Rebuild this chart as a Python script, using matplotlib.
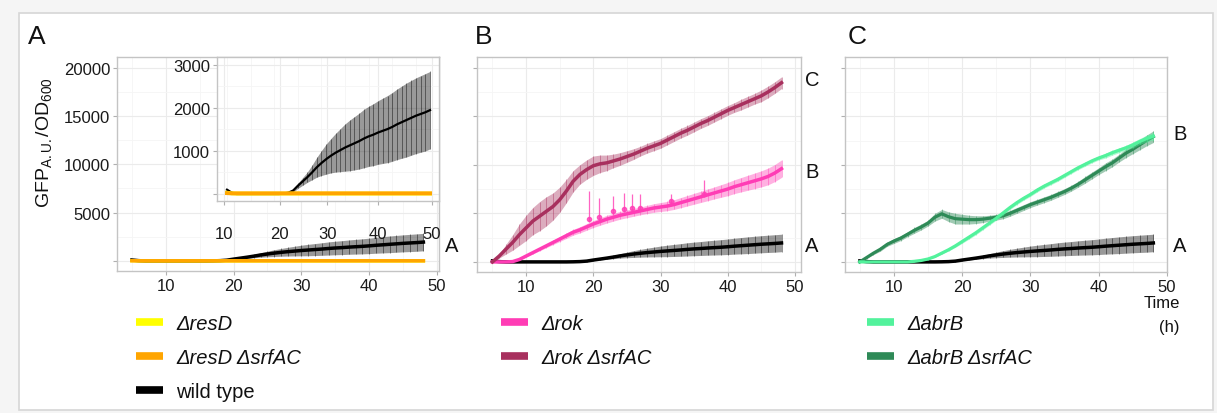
import matplotlib
matplotlib.use("Agg")
import matplotlib.pyplot as plt
from matplotlib.patches import Rectangle
from matplotlib.lines import Line2D
from matplotlib.ticker import MultipleLocator

plt.rcParams['font.family'] = ['Liberation Sans', 'DejaVu Sans']
plt.rcParams['mathtext.fontset'] = 'custom'
plt.rcParams['mathtext.rm'] = 'Liberation Sans'
plt.rcParams['mathtext.it'] = 'Liberation Sans:italic'

# ---------------- data ----------------
time_h = [5, 6, 7, 8, 9, 10, 11, 12, 13, 14, 15, 16, 17, 18, 19, 20, 21, 22, 23, 24, 25, 26,
          27, 28, 29, 30, 31, 32, 33, 34, 35, 36, 37, 38, 39, 40, 41, 42, 43, 44, 45, 46, 47, 48]

wt_mean = [100, 30, 0, 0, 0, 0, 0, 0, 0, 0, 0, 0, 10, 30, 80, 190, 290, 390, 500, 620, 720, 810,
           890, 960, 1020, 1080, 1130, 1180, 1230, 1290, 1340, 1380, 1430, 1470, 1510, 1560, 1620,
           1670, 1720, 1770, 1820, 1860, 1900, 1950]
wt_sd = [20, 10, 0, 0, 0, 0, 0, 0, 0, 0, 0, 0, 5, 20, 40, 60, 90, 120, 170, 230, 290, 350, 400,
         450, 500, 550, 590, 620, 650, 680, 700, 720, 740, 760, 780, 800, 820, 840, 860, 870, 880,
         890, 900, 900]

resD_mean = [30, 15, 10, 10, 10, 10, 10, 10, 10, 10, 10, 10, 10, 10, 10, 10, 10, 10, 10, 10, 10, 10,
             10, 10, 10, 10, 10, 10, 10, 10, 10, 10, 10, 10, 10, 10, 10, 10, 10, 10, 10, 10, 10, 10]
resD_srfAC_mean = [20, 15, 15, 15, 15, 15, 15, 15, 15, 15, 15, 15, 15, 15, 15, 15, 15, 15, 15, 15,
                   15, 15, 15, 15, 15, 15, 15, 15, 15, 15, 15, 15, 15, 15, 15, 15, 15, 15, 15, 15,
                   15, 15, 15, 15]

rok_mean = [0, 0, 0, 30, 250, 600, 950, 1300, 1650, 2000, 2350, 2700, 3050, 3300, 3600, 3900, 4150,
            4400, 4600, 4800, 4950, 5100, 5250, 5400, 5550, 5650, 5750, 5900, 6100, 6300, 6500, 6700,
            6900, 7100, 7300, 7500, 7750, 7950, 8150, 8350, 8550, 8800, 9150, 9600]
rok_sd = [0, 0, 0, 20, 60, 100, 130, 160, 190, 220, 250, 280, 300, 320, 340, 360, 380, 400, 400, 400,
          400, 400, 400, 420, 440, 460, 480, 500, 520, 540, 560, 580, 600, 620, 650, 680, 710, 740,
          770, 800, 830, 860, 880, 900]
rok_spike_t = [19.3, 20.9, 23.0, 24.6, 25.8, 27.0, 31.5, 36.4]
rok_spike_v = [4400, 4600, 5250, 5400, 5600, 5600, 6250, 6950]
rok_spike_up = [2900, 2000, 1550, 1700, 1350, 1400, 700, 1500]

rok_srfAC_mean = [0, 600, 1300, 2000, 2800, 3500, 4200, 4700, 5200, 5700, 6400, 7300, 8300, 9000,
                  9500, 9900, 10100, 10200, 10400, 10600, 10850, 11100, 11400, 11700, 11950, 12200,
                  12550, 12900, 13250, 13550, 13900, 14250, 14550, 14900, 15250, 15600, 15900, 16200,
                  16500, 16800, 17100, 17500, 17950, 18450]
rok_srfAC_sd = [0, 200, 500, 800, 1100, 1300, 1400, 1500, 1500, 1400, 1300, 1200, 1100, 1000, 1000,
                1000, 900, 800, 700, 650, 600, 550, 500, 500, 500, 500, 500, 500, 500, 500, 500, 500,
                500, 500, 500, 500, 500, 550, 550, 550, 600, 600, 600, 600]

abrB_mean = [0, 0, 0, 0, 0, 0, 0, 0, 60, 150, 300, 550, 900, 1250, 1650, 2100, 2550, 3000, 3500,
             4000, 4500, 5050, 5600, 6100, 6550, 6950, 7400, 7800, 8150, 8500, 8900, 9300, 9700,
             10050, 10400, 10700, 10950, 11250, 11500, 11750, 12050, 12400, 12700, 12950]
abrB_sd = [0, 0, 0, 0, 0, 0, 0, 0, 20, 40, 60, 80, 100, 120, 150, 180, 200, 200, 200, 200, 200, 200,
           200, 200, 200, 200, 200, 200, 200, 200, 200, 200, 200, 200, 200, 200, 250, 250, 250, 250,
           300, 300, 350, 400]

abrB_srfAC_mean = [0, 450, 900, 1300, 1800, 2150, 2450, 2850, 3250, 3600, 4000, 4600, 4950, 4650,
                   4450, 4400, 4350, 4350, 4400, 4500, 4600, 4750, 5000, 5300, 5600, 5900, 6150,
                   6400, 6650, 6950, 7250, 7600, 8000, 8450, 8900, 9350, 9800, 10200, 10700, 11200,
                   11600, 12050, 12500, 12900]
abrB_srfAC_sd = [0, 100, 150, 200, 200, 250, 250, 250, 300, 300, 300, 400, 450, 500, 550, 500, 450,
                 400, 350, 300, 300, 300, 300, 300, 300, 300, 300, 300, 300, 300, 300, 300, 300, 350,
                 350, 350, 400, 400, 400, 450, 450, 500, 550, 600]

main_yticks = [0, 5000, 10000, 15000, 20000]
main_ytick_labels = ['', '5000', '10000', '15000', '20000']
xticks = [10, 20, 30, 40, 50]
xtick_labels = ['10', '20', '30', '40', '50']
inset_yticks = [0, 1000, 2000, 3000]
inset_ytick_labels = ['', '1000', '2000', '3000']
inset_xtick_labels = ['10', '20', '30', '40', '50']

labels_A = ['ΔresD', 'ΔresD ΔsrfAC', 'wild type']
labels_B = ['Δrok', 'Δrok ΔsrfAC']
labels_C = ['ΔabrB', 'ΔabrB ΔsrfAC']

# colours
C_YEL = '#ffff00'
C_ORA = '#ffa500'
C_WT = '#000000'
C_ROK = '#ff3db5'
C_ROKS = '#a8305e'
C_ABR = '#52f29c'
C_ABRS = '#2e8a57'

W, H = 1217, 414
fig = plt.figure(figsize=(W / 100, H / 100), dpi=100)
fig.patch.set_facecolor('#f5f5f5')
fig.patches.append(Rectangle((19 / W, 1 - 411 / H), (1213 - 19) / W, (411 - 14) / H,
                             transform=fig.transFigure, facecolor='white',
                             edgecolor='#d6d6d6', linewidth=1.2, zorder=-10))


def px_axes(l, r, t, b):
    return fig.add_axes([l / W, 1 - b / H, (r - l) / W, (b - t) / H])


def style(ax, ylim, xlim):
    ax.set_xlim(*xlim)
    ax.set_ylim(*ylim)
    ax.set_facecolor('white')
    ax.grid(True, which='major', color='#ebebeb', lw=0.8)
    ax.grid(True, which='minor', color='#f5f5f5', lw=0.6)
    ax.set_axisbelow(True)
    for s in ax.spines.values():
        s.set_color('#c4c4c4')
        s.set_linewidth(1.0)
    ax.tick_params(which='major', length=3, width=0.8, color='#b0b0b0',
                   labelsize=12, labelcolor='#1a1a1a', pad=2)
    ax.tick_params(which='minor', length=0)


def band(ax, t, m, sd, color, alpha=0.45, lw=2.2, z=3):
    lo = [a - b for a, b in zip(m, sd)]
    hi = [a + b for a, b in zip(m, sd)]
    ax.fill_between(t, lo, hi, color=color, alpha=alpha, lw=0, zorder=z)
    ax.errorbar(t, m, yerr=sd, fmt='none', ecolor=color, elinewidth=0.6, alpha=0.5, zorder=z)
    ax.plot(t, m, color=color, lw=lw, zorder=z + 0.5)


YL = (-1040, 21100)

# ---------------- panel A ----------------
axA = px_axes(117, 439, 58, 272)
style(axA, YL, (2.8, 50.3))
axA.set_xticks(xticks, xtick_labels)
axA.set_yticks(main_yticks, main_ytick_labels)
axA.xaxis.set_minor_locator(MultipleLocator(5))
axA.yaxis.set_minor_locator(MultipleLocator(2500))
band(axA, time_h, wt_mean, wt_sd, C_WT, alpha=0.4, lw=2.5)
axA.plot(time_h, resD_mean, color=C_YEL, lw=2.5, zorder=5)
axA.plot(time_h, resD_srfAC_mean, color=C_ORA, lw=2.5, zorder=6)

# inset
axI = px_axes(217, 439, 58, 202)
style(axI, (-163, 3186), (2.88, 49.9))
axI.set_yticks(inset_yticks, inset_ytick_labels)
axI.set_xticks([4.4, 16.2, 26.2, 37.0, 48.4], inset_xtick_labels)
axI.tick_params(axis='x', pad=15, length=3)
axI.xaxis.set_minor_locator(MultipleLocator(5))
axI.yaxis.set_minor_locator(MultipleLocator(500))
band(axI, time_h, wt_mean, wt_sd, C_WT, alpha=0.4, lw=1.6)
axI.plot(time_h, resD_mean, color=C_YEL, lw=2.8, zorder=5)
axI.plot(time_h, resD_srfAC_mean, color=C_ORA, lw=2.8, zorder=6)

# ---------------- panel B ----------------
axB = px_axes(477, 801, 58, 273)
style(axB, YL, (2.7, 50.9))
axB.set_xticks(xticks, xtick_labels)
axB.set_yticks(main_yticks, ['', '', '', '', ''])
axB.xaxis.set_minor_locator(MultipleLocator(5))
axB.yaxis.set_minor_locator(MultipleLocator(2500))
band(axB, time_h, wt_mean, wt_sd, C_WT, alpha=0.4, lw=2.5)
band(axB, time_h, rok_mean, rok_sd, C_ROK, alpha=0.4, lw=2.5, z=4)
axB.errorbar(rok_spike_t, rok_spike_v, yerr=[[300] * len(rok_spike_t), rok_spike_up], fmt='o',
             ms=3, color=C_ROK, ecolor=C_ROK, elinewidth=0.9, alpha=0.8, zorder=4)
band(axB, time_h, rok_srfAC_mean, rok_srfAC_sd, C_ROKS, alpha=0.4, lw=2.5, z=5)

# ---------------- panel C ----------------
axC = px_axes(845, 1167, 58, 273)
style(axC, YL, (2.83, 50.0))
axC.set_xticks(xticks, xtick_labels)
axC.set_yticks(main_yticks, ['', '', '', '', ''])
axC.xaxis.set_minor_locator(MultipleLocator(5))
axC.yaxis.set_minor_locator(MultipleLocator(2500))
band(axC, time_h, wt_mean, wt_sd, C_WT, alpha=0.4, lw=2.5)
band(axC, time_h, abrB_srfAC_mean, abrB_srfAC_sd, C_ABRS, alpha=0.45, lw=2.3, z=4)
band(axC, time_h, abrB_mean, abrB_sd, C_ABR, alpha=0.45, lw=2.3, z=5)

# ---------------- texts ----------------
def ftext(x, y, s, **kw):
    fig.text(x / W, 1 - y / H, s, ha='center', va='center', color='#111111', **kw)

ftext(37, 37, 'A', fontsize=19)
ftext(484, 37, 'B', fontsize=19)
ftext(857, 37, 'C', fontsize=19)
ftext(44, 143, r'GFP$_{\mathrm{A.U.}}$/OD$_{\mathrm{600}}$', fontsize=14, rotation=90)
ftext(452, 247, 'A', fontsize=14.5)
ftext(812, 80, 'C', fontsize=14.5)
ftext(812, 173, 'B', fontsize=14.5)
ftext(812, 247, 'A', fontsize=14.5)
ftext(1180, 135, 'B', fontsize=14.5)
ftext(1180, 247, 'A', fontsize=14.5)
ftext(1162, 304, 'Time', fontsize=12)
ftext(1169, 328, '(h)', fontsize=12)

# ---------------- legends ----------------
def make_legend(x, y, colors, labels):
    handles = [Line2D([0], [0], color=c, lw=5.5, solid_capstyle='butt') for c in colors]
    leg = fig.legend(handles, labels, loc='upper left', bbox_to_anchor=(x / W, 1 - y / H),
                     frameon=False, fontsize=14.5, handlelength=1.35, handletextpad=0.65,
                     labelspacing=0.75, borderaxespad=0, borderpad=0)
    for t in leg.get_texts():
        if t.get_text().startswith('Δ'):
            t.set_fontstyle('italic')
        t.set_color('#111111')
    return leg

make_legend(136, 315, [C_YEL, C_ORA, C_WT], labels_A)
make_legend(501, 315, [C_ROK, C_ROKS], labels_B)
make_legend(867, 315, [C_ABR, C_ABRS], labels_C)

fig.savefig('out.png', dpi=100, facecolor=fig.get_facecolor())
